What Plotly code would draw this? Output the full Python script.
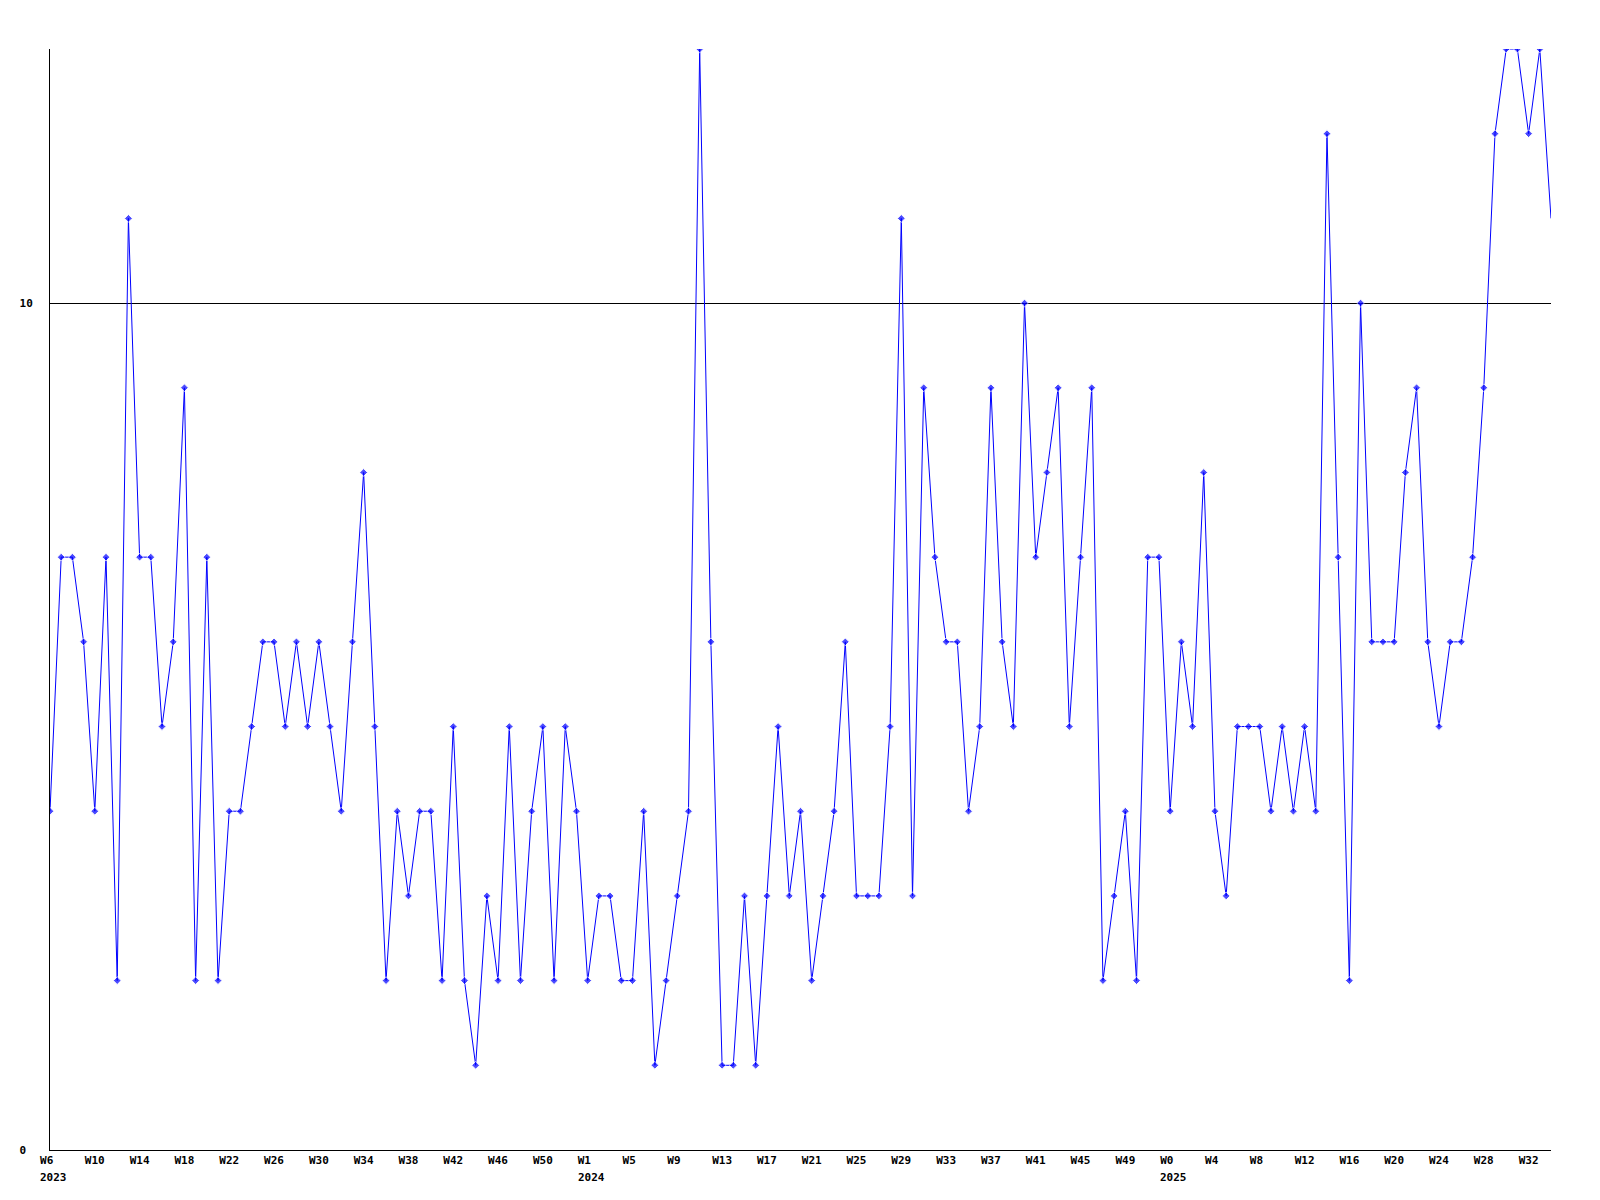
import plotly.graph_objects as go

# Week numbers per year (categories)
weeks_2023 = list(range(6, 54))   # W6 .. W53
weeks_2024 = list(range(1, 53))   # W1 .. W52
weeks_2025 = list(range(0, 35))   # W0 .. W34

values_2023 = [4, 7, 7, 6, 4, 7, 2, 11, 7, 7, 5, 6, 9, 2, 7, 2, 4, 4, 5, 6, 6, 5, 6, 5,
               6, 5, 4, 6, 8, 5, 2, 4, 3, 4, 4, 2, 5, 2, 1, 3, 2, 5, 2, 4, 5, 2, 5, 4]
values_2024 = [2, 3, 3, 2, 2, 4, 1, 2, 3, 4, 13, 6, 1, 1, 3, 1, 3, 5, 3, 4, 2, 3, 4, 6,
               3, 3, 3, 5, 11, 3, 9, 7, 6, 6, 4, 5, 9, 6, 5, 10, 7, 8, 9, 5, 7, 9, 2, 3,
               4, 2, 7, 7]
values_2025 = [4, 6, 5, 8, 4, 3, 5, 5, 5, 4, 5, 4, 5, 4, 12, 7, 2, 10, 6, 6, 6, 8, 9, 6,
               5, 6, 6, 7, 9, 12, 13, 13, 12, 13, 11]

y_tick_vals = [0, 10]
y_tick_text = ["0\u00a0", "10"]

categories = ([f"{2023}-W{w}" for w in weeks_2023] +
              [f"{2024}-W{w}" for w in weeks_2024] +
              [f"{2025}-W{w}" for w in weeks_2025])
week_labels = ([f"W{w}" for w in weeks_2023] + [f"W{w}" for w in weeks_2024] +
               [f"W{w}" for w in weeks_2025])
values = values_2023 + values_2024 + values_2025

tick_step = 4
tickvals = categories[::tick_step]
ticktext = [lbl if len(lbl) >= 3 else lbl + "\u00a0" for lbl in week_labels[::tick_step]]

year_starts = [(categories[0], "2023"),
               (categories[len(weeks_2023)], "2024"),
               (categories[len(weeks_2023) + len(weeks_2024)], "2025")]

FONT = "DejaVu Sans Mono"

# last point sits on the clipped right edge: no visible marker there
marker_sizes = [6] * (len(values) - 1) + [0]

fig = go.Figure()
fig.add_trace(go.Scatter(
    x=categories, y=values, mode="lines+markers",
    line=dict(color="#0000ff", width=1),
    marker=dict(symbol="diamond", size=marker_sizes, color="#0000ff"),
    showlegend=False, hoverinfo="x+y",
))

annotations = []
for cat, yr in year_starts:
    annotations.append(dict(
        x=cat, xref="x", y=0, yref="paper", text=f"<b>{yr}</b>", showarrow=False,
        xanchor="left", yanchor="top", xshift=-12, yshift=-19,
        font=dict(family=FONT, size=11, color="black"),
    ))

fig.update_layout(
    width=1584, height=1184,
    margin=dict(l=42, r=41, t=41, b=42, autoexpand=False),
    paper_bgcolor="white", plot_bgcolor="white",
    font=dict(family=FONT, size=11, color="black"),
    annotations=annotations,
    xaxis=dict(
        type="category", range=[0, len(categories) - 1],
        tickvals=tickvals, ticktext=[f"<b>{t}</b>" for t in ticktext],
        showgrid=False, zeroline=False, showline=True, linecolor="black", linewidth=1,
        ticks="", tickfont=dict(family=FONT, size=11, color="black"),
        automargin=False,
    ),
    yaxis=dict(
        range=[0, 13], tickvals=y_tick_vals, ticktext=[f"<b>{t}</b>" for t in y_tick_text],
        showgrid=True, gridcolor="black", gridwidth=1, zeroline=False,
        showline=True, linecolor="black", linewidth=1,
        ticks="", ticklabelstandoff=14, automargin=False,
        tickfont=dict(family=FONT, size=11, color="black"),
    ),
)

fig.write_html("out.html")
